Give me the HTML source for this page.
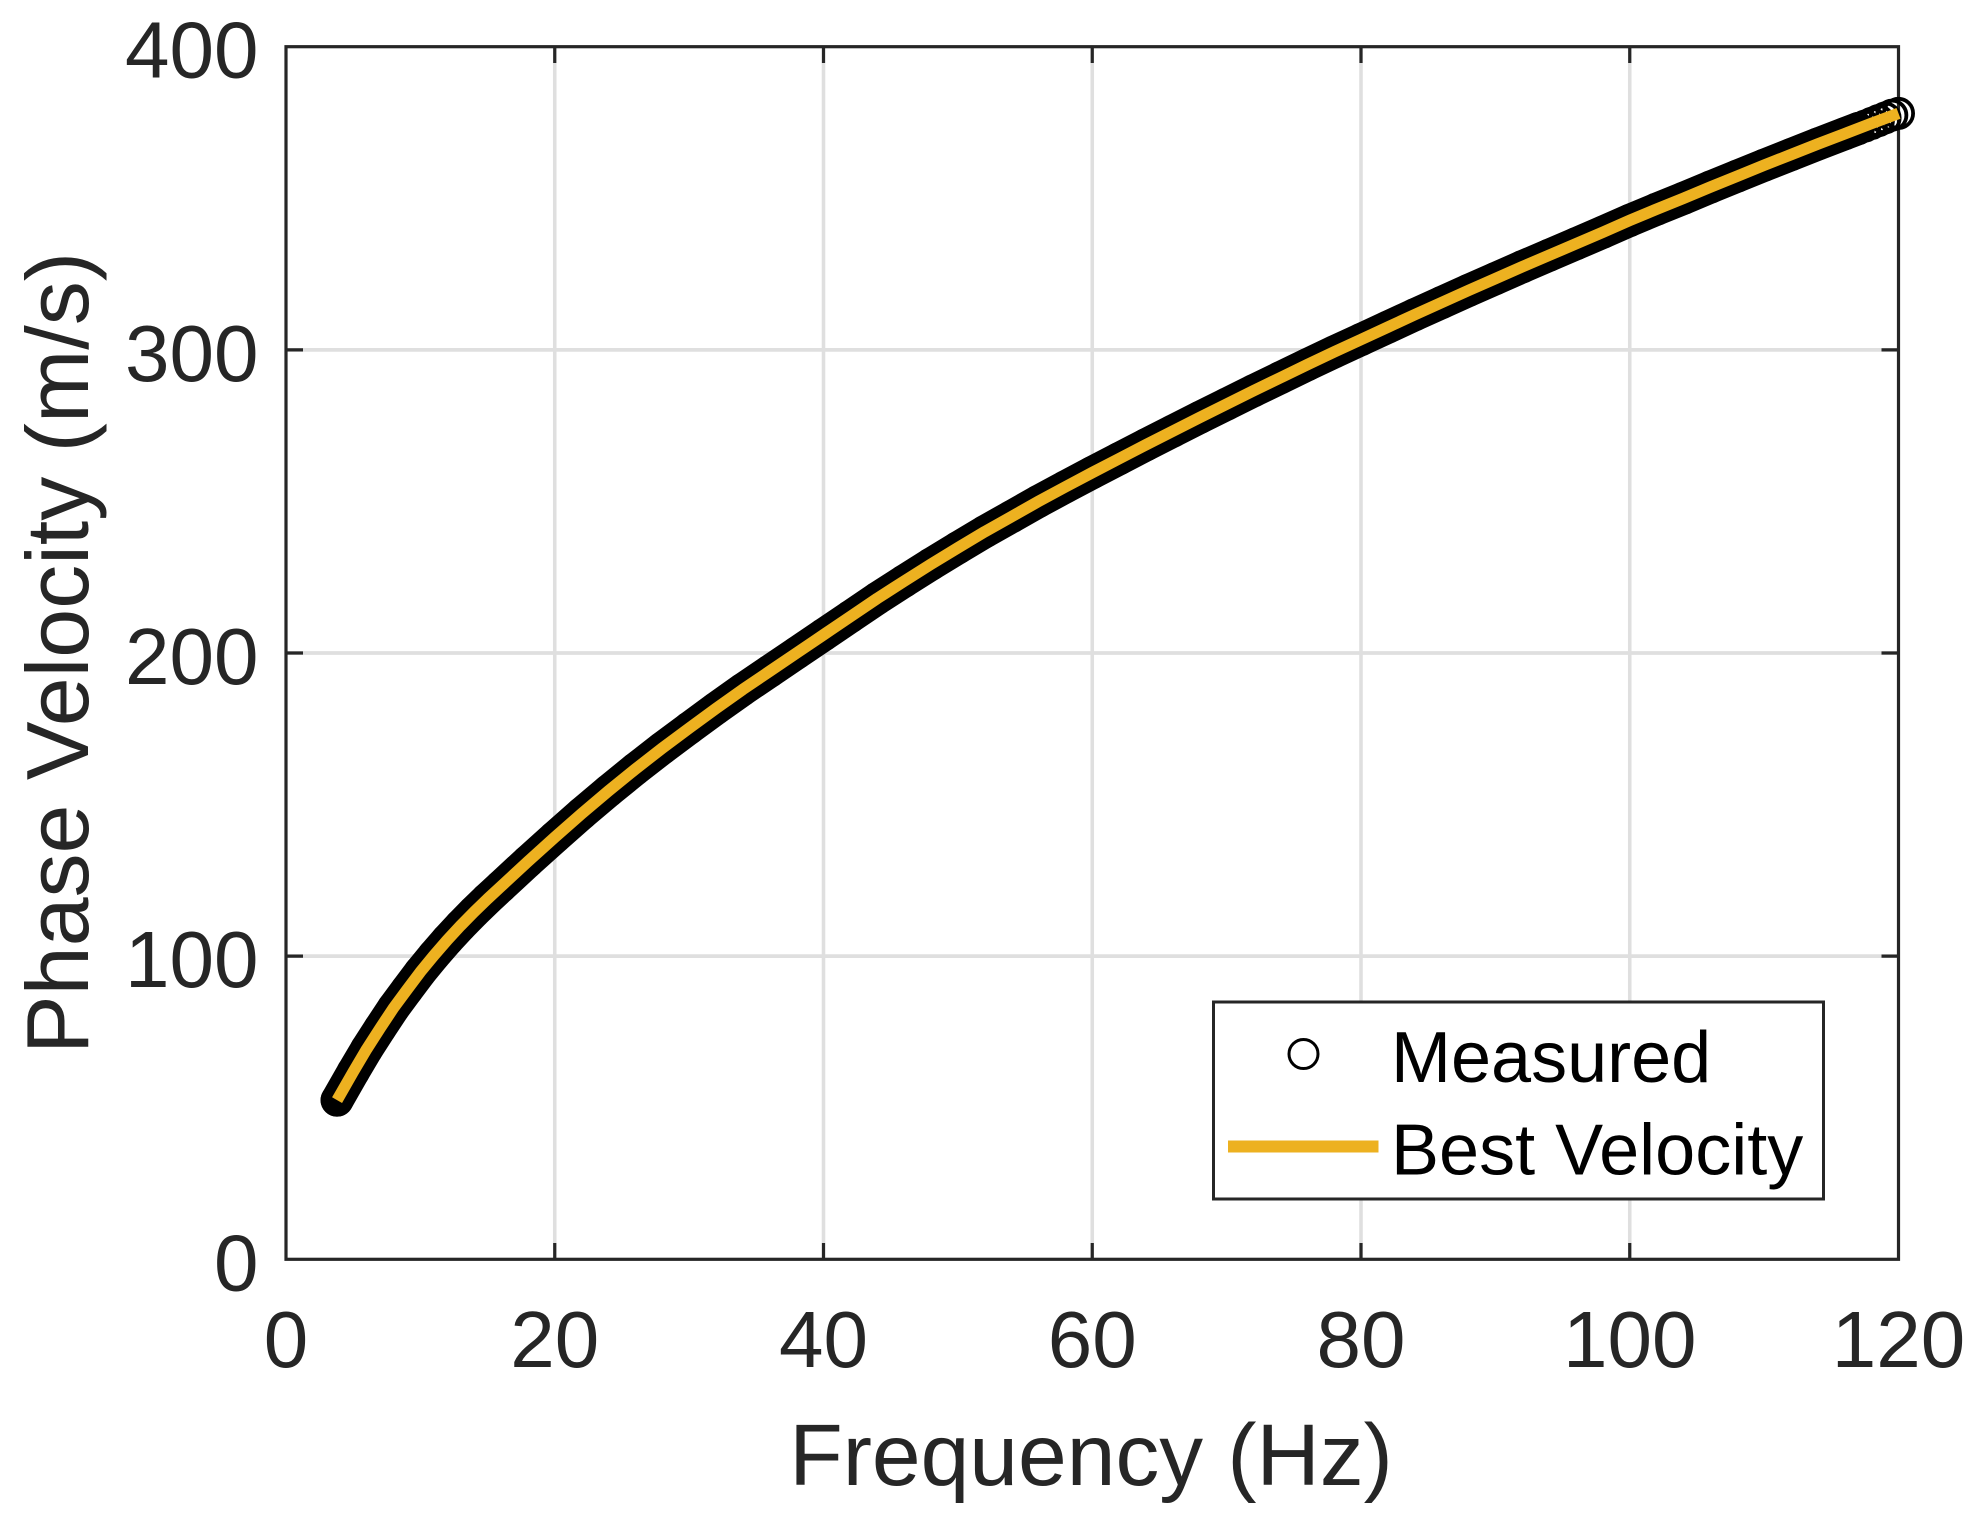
<!DOCTYPE html>
<html>
<head>
<meta charset="utf-8">
<title>Phase Velocity vs Frequency</title>
<style>
html,body{margin:0;padding:0;background:#fff;}
svg{display:block;}
text{font-family:"Liberation Sans",sans-serif;}
</style>
</head>
<body>
<svg id="chart" xmlns="http://www.w3.org/2000/svg" width="1972" height="1517" viewBox="0 0 1972 1517">
  <rect x="0" y="0" width="1972" height="1517" fill="#ffffff"/>
  <g id="grid"></g>
  <rect x="286" y="46.7" width="1612.5" height="1212.6" fill="none" stroke="#262626" stroke-width="3.2"/>
  <g id="ticks"></g>
  <g id="xlabels" font-size="80" fill="#262626" text-anchor="middle"></g>
  <g id="ylabels" font-size="80" fill="#262626" text-anchor="end"></g>
  <text x="1091" y="1485" font-size="87.6" fill="#262626" text-anchor="middle">Frequency (Hz)</text>
  <text transform="translate(88,653) rotate(-90)" font-size="88" fill="#262626" text-anchor="middle">Phase Velocity (m/s)</text>
  <g id="measured"></g>
  <polyline id="best" fill="none" stroke="#EDB120" stroke-width="11.5" stroke-linejoin="round" stroke-linecap="butt"/>
  <g>
    <rect x="1213.5" y="1002" width="610" height="197" fill="#ffffff" stroke="#262626" stroke-width="3"/>
    <circle cx="1303.5" cy="1054" r="14.5" fill="none" stroke="#000000" stroke-width="3"/>
    <text x="1391" y="1082" font-size="72" fill="#000000">Measured</text>
    <line x1="1228" y1="1146.5" x2="1378.5" y2="1146.5" stroke="#EDB120" stroke-width="12"/>
    <text x="1391" y="1174.5" font-size="72" fill="#000000">Best Velocity</text>
  </g>
</svg>
<script>
const xTicks = [0, 20, 40, 60, 80, 100, 120];
const yTicks = [0, 100, 200, 300, 400];
const frequencies = [3.8,5,6,7,8,9,10,11,12,13,14,15,16,18,20,22,24,26,28,30,32,34,36,38,40,42,44,46,48,50,52,54,56,58,60,62,64,66,68,70,72,74,76,78,80,82,84,86,88,90,92,94,96,98,100,102,104,106,108,110,112,114,116,118,120];
const bestVelocity = [52.5,61.8,69.3,76.2,82.9,88.9,94.8,100.2,105.3,110.1,114.6,118.9,123,131.2,139.2,147,154.5,161.7,168.6,175.2,181.7,188,194,200,206,212,218,223.7,229.3,234.7,240,245,250,254.8,259.5,264.1,268.7,273.2,277.7,282.1,286.5,290.8,295.1,299.3,303.4,307.5,311.6,315.6,319.6,323.5,327.4,331.2,335,338.8,342.7,346.4,350,353.7,357.3,360.9,364.4,367.9,371.3,374.7,378];
const measuredFrequency = [3.8,5,6,7,8,9,10,11,12,13,14,15,16,18,20,22,24,26,28,30,32,34,36,38,40,42,44,46,48,50,52,54,56,58,60,62,64,66,68,70,72,74,76,78,80,82,84,86,88,90,92,94,96,98,100,102,104,106,108,110,112,114,116,117,117.5,118,118.5,119,119.5,120];
const measuredVelocity = [52.5,61.8,69.3,76.2,82.9,88.9,94.8,100.2,105.3,110.1,114.6,118.9,123,131.2,139.2,147,154.5,161.7,168.6,175.2,181.7,188,194,200,206,212,218,223.7,229.3,234.7,240,245,250,254.8,259.5,264.1,268.7,273.2,277.7,282.1,286.5,290.8,295.1,299.3,303.4,307.5,311.6,315.6,319.6,323.5,327.4,331.2,335,338.8,342.7,346.4,350,353.7,357.3,360.9,364.4,367.9,371.3,373,373.8,374.7,375.6,376.5,377.4,378];

const NS = 'http://www.w3.org/2000/svg';
const xScale = f => 286 + f * (1612.5 / 120);
const yScale = v => 1259.3 - v * (1212.6 / 400);

function make(tag, attrs, parent) {
  const el = document.createElementNS(NS, tag);
  for (const k in attrs) el.setAttribute(k, attrs[k]);
  parent.appendChild(el);
  return el;
}

const grid = document.getElementById('grid');
const ticks = document.getElementById('ticks');
const xlabels = document.getElementById('xlabels');
const ylabels = document.getElementById('ylabels');

xTicks.forEach(t => {
  const x = xScale(t);
  if (t > 0 && t < 120) {
    const g = make('line', {x1: x, x2: x, y1: 46.7, y2: 1259.3, stroke: '#dfdfdf', 'stroke-width': 3.6}, grid);
    
    
    const a = make('line', {x1: x, x2: x, y1: 1259.3, y2: 1243, stroke: '#262626', 'stroke-width': 3.2}, ticks);
    
    
    const b = make('line', {x1: x, x2: x, y1: 46.7, y2: 63, stroke: '#262626', 'stroke-width': 3.2}, ticks);
    
    
  }
  const l = make('text', {x: x, y: 1367}, xlabels);
  
  
  l.textContent = t;
});

yTicks.forEach(t => {
  const y = yScale(t);
  if (t > 0 && t < 400) {
    const g = make('line', {x1: 286, x2: 1898.5, y1: y, y2: y, stroke: '#dfdfdf', 'stroke-width': 3.8}, grid);
    
    
    const a = make('line', {x1: 286, x2: 303, y1: y, y2: y, stroke: '#262626', 'stroke-width': 3.2}, ticks);
    
    
    const b = make('line', {x1: 1898.5, x2: 1881.5, y1: y, y2: y, stroke: '#262626', 'stroke-width': 3.2}, ticks);
    
    
  }
  const l = make('text', {x: 258.5, y: y + 31}, ylabels);
  
  
  l.textContent = t;
});

const measured = document.getElementById('measured');
const bandPoints = measuredFrequency.slice(0, -6).map((f, i) => xScale(f) + ',' + yScale(measuredVelocity[i])).join(' ');
const band = make('polyline', {points: bandPoints, fill: 'none', stroke: '#000000', 'stroke-width': 33, 'stroke-linejoin': 'round', 'stroke-linecap': 'round'}, measured);


measuredFrequency.forEach((f, i) => {
  const c = make('circle', {cx: xScale(f), cy: yScale(measuredVelocity[i]), r: 14.6, fill: 'none', stroke: '#000000', 'stroke-width': 3.8}, measured);
  
  
});

document.getElementById('best').setAttribute('points', frequencies.map((f, i) => xScale(f) + ',' + yScale(bestVelocity[i])).join(' '));
</script>
</body>
</html>
